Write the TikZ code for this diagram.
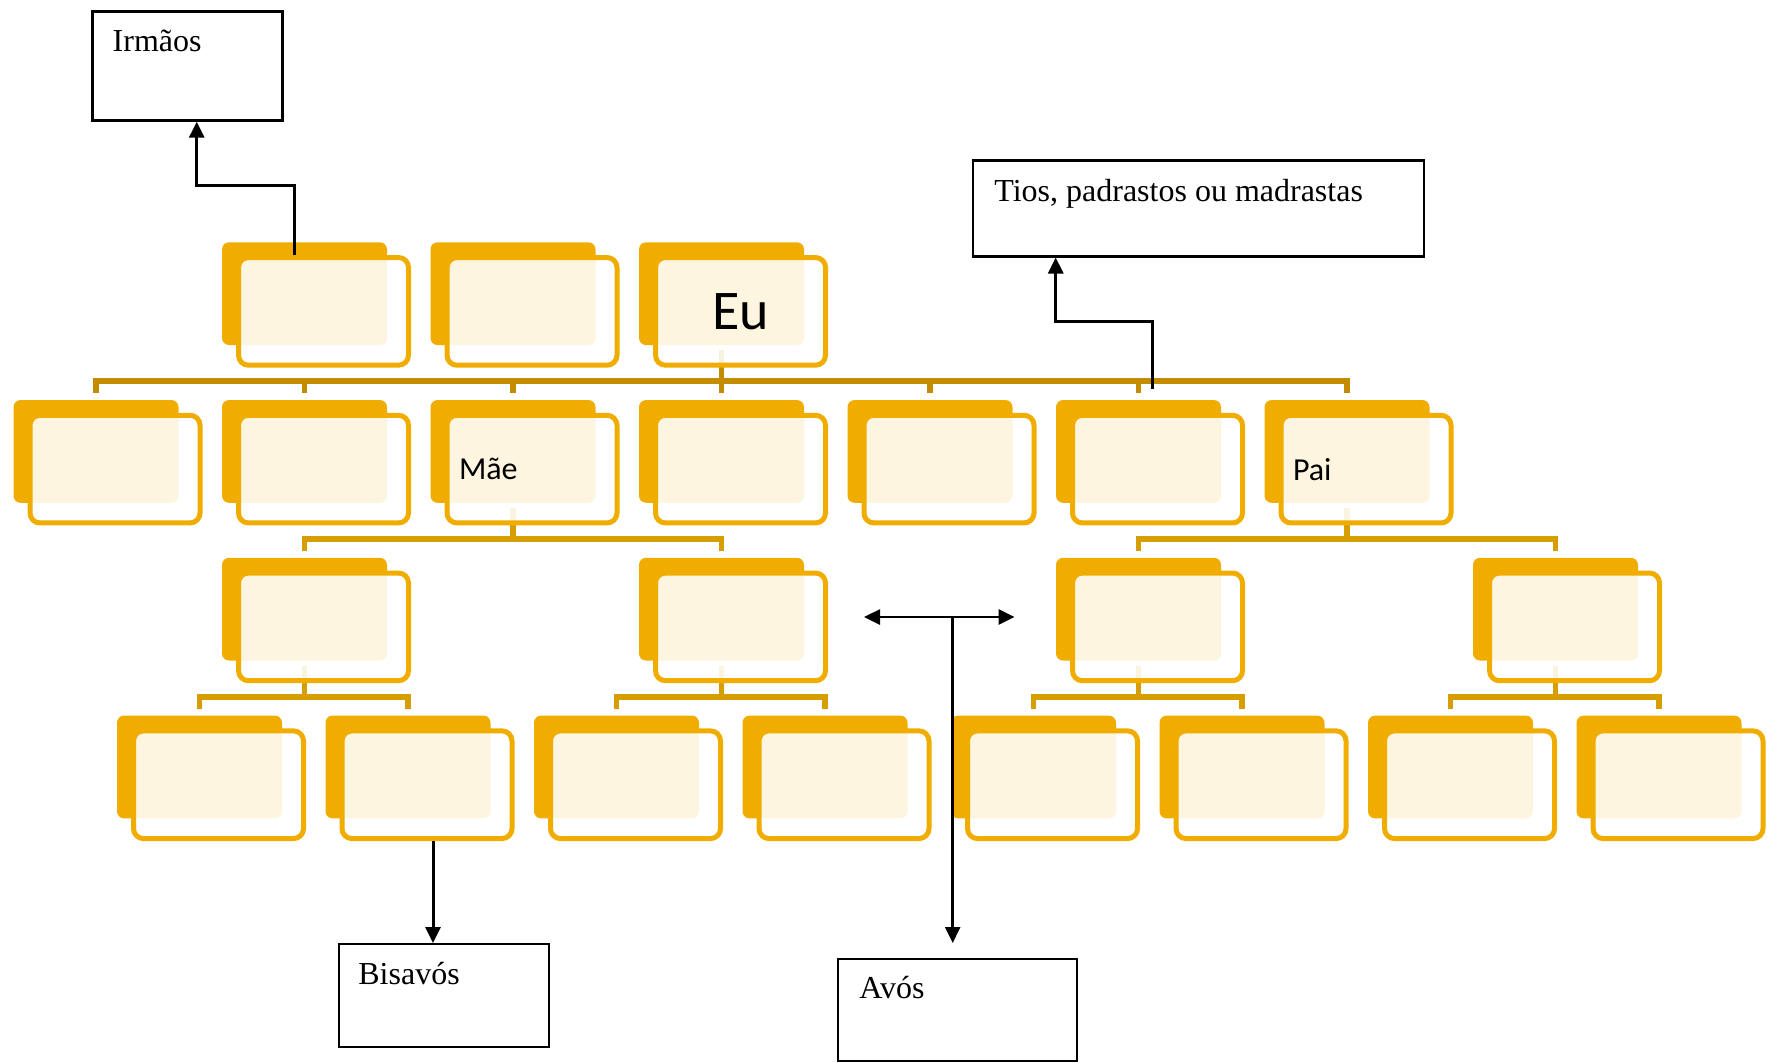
\documentclass[tikz,border=0pt]{standalone}
\usepackage{fontspec}
\setmainfont{Liberation Serif}
\newfontfamily\carlito{Carlito}
\usetikzlibrary{arrows.meta,calc,backgrounds}
\definecolor{famgold}{RGB}{240,173,0}
\definecolor{famgolddk}{RGB}{196,140,0}
\definecolor{famgoldmd}{RGB}{214,158,0}

\begin{document}
\begin{tikzpicture}[x=0.5pt, y=-0.5pt,
  cardback/.style={fill=famgold, rounded corners=3.5pt, inner sep=0pt,
    minimum width=82.5pt, minimum height=51.35pt},
  cardfront/.style={draw=famgold, line width=2.5pt, fill=white,
    fill opacity=0.88, text opacity=1, rounded corners=5pt, inner sep=0pt,
    minimum width=85pt, minimum height=53.85pt,
    font=\carlito\fontsize{16}{19}\selectfont},
  lefttext/.style={text width=73pt, align=left},
  bustop/.style={draw=famgolddk, line width=2.8pt},
  buslow/.style={draw=famgoldmd, line width=2.8pt},
  infobox/.style={draw, line width=1.2pt, anchor=north west, inner sep=0pt},
  infotext/.style={anchor=base west, inner sep=0pt,
    font=\fontsize{16}{19}\selectfont},
  arr/.style={-{Triangle[length=8pt, width=7.5pt]}, line width=1.5pt}]
\useasboundingbox (0,0) rectangle (1767,1062);
% Cards, rows 1 to 3
\foreach \nm/\k/\r in {r1a/2/1, r1b/3/1, r2a/1/2, r2b/2/2, r2d/4/2,
    r2e/5/2, r2f/6/2, r3a/2/3, r3b/4/3, r3c/6/3, r3d/8/3}
  {\node[cardback] (\nm) at ({96+208.5*(\k-1)},{293.65+157.75*(\r-1)}) {};
   \node[cardfront] (\nm-f) at ([shift={(19,17.7)}]\nm.center) {};}
% Cards, row 4
\foreach \nm/\j in {r4a/1, r4b/2, r4c/3, r4d/4, r4e/5, r4f/6, r4g/7, r4h/8}
  {\node[cardback] (\nm) at ({199.5+208.5*(\j-1)},767) {};
   \node[cardfront] (\nm-f) at ([shift={(19,17.7)}]\nm.center) {};}
% Labelled cards
\node[cardback] (eu) at (721.5,293.65) {};
\node[cardfront, font=\carlito\fontsize{28}{33}\selectfont] (eu-f)
  at ([shift={(19,17.7)}]eu.center) {Eu};
\node[cardback] (mae) at (513,451.4) {};
\node[cardfront, lefttext] (mae-f) at ([shift={(19,17.7)}]mae.center) {Mãe};
\node[cardback] (pai) at (1347,451.4) {};
\node[cardfront, lefttext] (pai-f) at ([shift={(19,17.7)}]pai.center) {Pai};
% Gold connectors behind the cards
\begin{scope}[on background layer]
\draw[bustop] ($(r2a.north)+(0,-7)$) -- ++(0,-11.5) -| ($(pai.north)+(0,-7)$);
\foreach \nm in {r2b,mae,r2d,r2e,r2f}
  \draw[bustop] ($(\nm.north)+(0,-7)$) -- ++(0,-11.5);
\draw[bustop] ($(eu.south)+(0,5)$) -- ($(r2d.north)+(0,-7)$);
\foreach \p/\a/\b in {mae/r3a/r3b, pai/r3c/r3d, r3a/r4a/r4b,
    r3b/r4c/r4d, r3c/r4e/r4f, r3d/r4g/r4h}
  {\draw[buslow] ($(\p.south)+(0,5)$) -- ++(0,31);
   \draw[buslow] ($(\a.north)+(0,-6)$) |- ($(\p.south)+(0,36)$)
     -| ($(\b.north)+(0,-6)$);}
\end{scope}
% Text boxes
\node[infobox, minimum width=95pt, minimum height=54.5pt] (irmaos) at (91.3,10.3) {};
\node[infotext] (irmaos-t) at ($(irmaos.north west)+(21,41)$) {Irmãos};
\node[infobox, minimum width=225.4pt, minimum height=47.9pt] (tios) at (972,159.3) {};
\node[infotext] (tios-t) at ($(tios.north west)+(22,42)$) {Tios, padrastos ou madrastas};
\node[infobox, minimum width=105pt, minimum height=51.5pt] (bisavos) at (338,943) {};
\node[infotext] (bisavos-t) at ($(bisavos.north west)+(20,41)$) {Bisavós};
\node[infobox, minimum width=119.5pt, minimum height=50.75pt] (avos) at (837,958) {};
\node[infotext] (avos-t) at ($(avos.north west)+(22,40.5)$) {Avós};
% Black arrows
\draw[arr] ($(r1a-f.north)+(-29,0)$) -- ++(0,-70) -| ($(irmaos.south west)+(105.4,0)$);
\draw[arr] ($(r2f.north)+(14,-11)$) -- ++(0,-67) -| ($(tios.south west)+(83.7,0)$);
\coordinate (bis-a) at ($(r4b-f.south)+(6,0)$);
\draw[arr] (bis-a) -- (bis-a |- bisavos.north);
\coordinate (tee) at (952.7,617);
\draw[{Triangle[length=8pt, width=7.5pt]}-{Triangle[length=8pt, width=7.5pt]},
  line width=1.3pt, shorten <=18pt, shorten >=20.5pt]
  (r3b-f.east |- tee) -- (r3c.west |- tee);
\draw[arr, line width=1.3pt, shorten >=7.5pt] (tee) -- (tee |- avos.north);
\end{tikzpicture}
\end{document}
